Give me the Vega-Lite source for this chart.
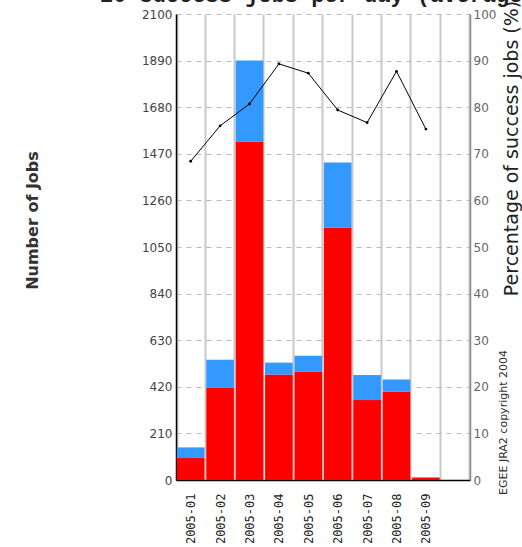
{
  "$schema": "https://vega.github.io/schema/vega-lite/v6.json",
  "autosize": {"type": "none"},
  "padding": {"left": 176, "top": 14, "right": 52, "bottom": 67},
  "width": 294,
  "height": 466,
  "background": "white",
  "title": {
    "text": "20 success jobs per day (average)",
    "anchor": "start",
    "frame": "group",
    "dx": -76,
    "dy": 24,
    "offset": 0,
    "baseline": "alphabetic",
    "font": "Liberation Mono",
    "fontSize": 22,
    "fontWeight": "bold",
    "color": "#222222"
  },
  "config": {"view": {"stroke": null}},
  "datasets": {
    "jobs": [
      {"month": "2005-01", "status": "success", "jobs": 99},
      {"month": "2005-01", "status": "failed", "jobs": 48},
      {"month": "2005-02", "status": "success", "jobs": 415},
      {"month": "2005-02", "status": "failed", "jobs": 127},
      {"month": "2005-03", "status": "success", "jobs": 1525},
      {"month": "2005-03", "status": "failed", "jobs": 366},
      {"month": "2005-04", "status": "success", "jobs": 475},
      {"month": "2005-04", "status": "failed", "jobs": 54},
      {"month": "2005-05", "status": "success", "jobs": 489},
      {"month": "2005-05", "status": "failed", "jobs": 71},
      {"month": "2005-06", "status": "success", "jobs": 1138},
      {"month": "2005-06", "status": "failed", "jobs": 293},
      {"month": "2005-07", "status": "success", "jobs": 360},
      {"month": "2005-07", "status": "failed", "jobs": 113},
      {"month": "2005-08", "status": "success", "jobs": 399},
      {"month": "2005-08", "status": "failed", "jobs": 54},
      {"month": "2005-09", "status": "success", "jobs": 9},
      {"month": "2005-09", "status": "failed", "jobs": 3}
    ],
    "pct": [
      {"month": "2005-01", "percent": 68.4},
      {"month": "2005-02", "percent": 76.0},
      {"month": "2005-03", "percent": 80.7},
      {"month": "2005-04", "percent": 89.3},
      {"month": "2005-05", "percent": 87.3},
      {"month": "2005-06", "percent": 79.4},
      {"month": "2005-07", "percent": 76.7},
      {"month": "2005-08", "percent": 87.7},
      {"month": "2005-09", "percent": 75.3}
    ]
  },
  "layer": [
    {
      "data": {"name": "jobs"},
      "mark": {"type": "bar"},
      "encoding": {
        "x": {
          "field": "month",
          "type": "nominal",
          "sort": null,
          "scale": {
            "domain": ["2005-01", "2005-02", "2005-03", "2005-04", "2005-05", "2005-06", "2005-07", "2005-08", "2005-09", "2005-10"],
            "paddingInner": 0.06,
            "paddingOuter": 0.03
          },
          "axis": {
            "labelExpr": "datum.value == '2005-10' ? '' : datum.value",
            "labelAngle": 270,
            "labelAlign": "right",
            "labelBaseline": "middle",
            "labelPadding": 13,
            "labelFont": "DejaVu Sans Mono",
            "labelFontSize": 12,
            "labelColor": "#222222",
            "ticks": false,
            "domain": true,
            "domainColor": "#000000",
            "domainWidth": 1.5,
            "grid": true,
            "tickBand": "extent",
            "gridColor": "#c8c8c8",
            "gridWidth": 2,
            "title": "EGEE JRA2 copyright 2004",
            "titleAngle": 270,
            "titleX": 327,
            "titleY": -58,
            "titleAlign": "center",
            "titleBaseline": "middle",
            "titleFont": "DejaVu Sans",
            "titleFontSize": 11,
            "titleFontWeight": "normal",
            "titleColor": "#333333"
          }
        },
        "y": {
          "field": "jobs",
          "type": "quantitative",
          "stack": "zero",
          "scale": {"domain": [0, 2100], "nice": false},
          "axis": {
            "orient": "left",
            "values": [0, 210, 420, 630, 840, 1050, 1260, 1470, 1680, 1890, 2100],
            "format": "d",
            "labelFont": "DejaVu Sans",
            "labelFontSize": 12,
            "labelColor": "#444444",
            "labelPadding": 4,
            "ticks": false,
            "domainColor": "#000000",
            "domainWidth": 1.5,
            "grid": true,
            "gridDash": [5, 5],
            "gridColor": "#bbbbbb",
            "title": "Number of Jobs",
            "titleAngle": 270,
            "titleX": -144,
            "titleY": 206,
            "titleAlign": "center",
            "titleBaseline": "middle",
            "titleFont": "DejaVu Sans",
            "titleFontSize": 16,
            "titleFontWeight": "bold",
            "titleColor": "#333333"
          }
        },
        "color": {
          "field": "status",
          "type": "nominal",
          "scale": {"domain": ["success", "failed"], "range": ["#ff0000", "#3399ff"]},
          "legend": null
        },
        "order": {"field": "status", "sort": "descending"}
      }
    },
    {
      "data": {"name": "pct"},
      "mark": {
        "type": "line",
        "color": "#000000",
        "strokeWidth": 1,
        "point": {"filled": true, "color": "#000000", "size": 8}
      },
      "encoding": {
        "x": {"field": "month", "type": "nominal", "sort": null},
        "y": {
          "field": "percent",
          "type": "quantitative",
          "scale": {"domain": [0, 100], "nice": false},
          "axis": {
            "orient": "right",
            "values": [0, 10, 20, 30, 40, 50, 60, 70, 80, 90, 100],
            "labelFont": "DejaVu Sans",
            "labelFontSize": 12,
            "labelColor": "#666666",
            "labelPadding": 3,
            "ticks": false,
            "grid": false,
            "domainColor": "#888888",
            "domainWidth": 1.5,
            "title": "Percentage of success jobs (%)",
            "titleAngle": 270,
            "titleX": 41,
            "titleY": 134,
            "titleAlign": "center",
            "titleBaseline": "middle",
            "titleFont": "DejaVu Sans",
            "titleFontSize": 19,
            "titleFontWeight": "normal",
            "titleColor": "#222222"
          }
        }
      }
    }
  ],
  "resolve": {"scale": {"y": "independent"}}
}
